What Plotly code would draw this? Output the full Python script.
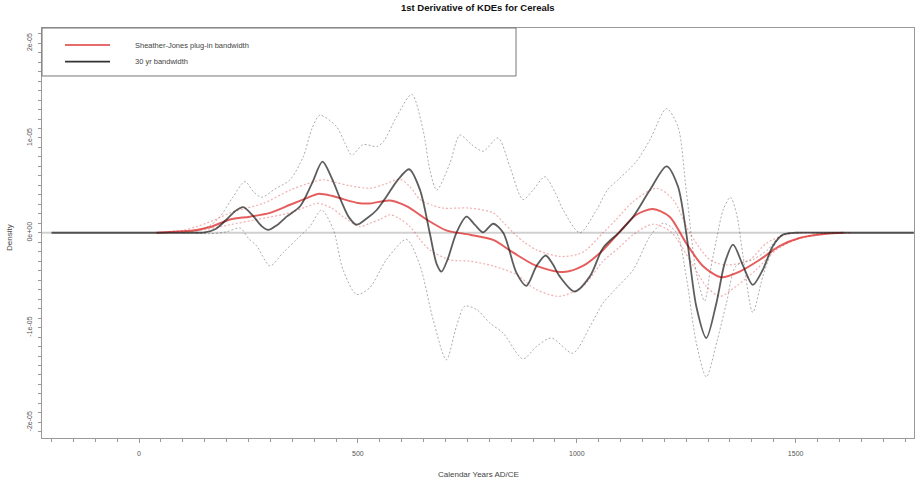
import numpy as np
import plotly.graph_objects as go

# values, in units of 1e-6
SCALE = 1e-6

# Sheather-Jones plug-in bandwidth (red)
sj_years = [40, 100, 132, 162, 208, 253, 299, 345, 380, 409, 440, 466, 500, 527, 573, 611, 657,
            702, 756, 809, 855, 908, 969, 1014, 1056, 1098, 1136, 1174, 1212, 1250, 1288, 1330,
            1372, 1418, 1463, 1509, 1570, 1610]
sj_vals = [0, 0.15, 0.3, 0.6, 1.4, 1.7, 2.1, 2.95, 3.6, 4.1, 3.9, 3.55, 3.15, 3.1, 3.4, 2.8, 1.4,
           0.25, -0.2, -0.75, -2.1, -3.5, -4.15, -3.5, -2.0, 0.1, 1.9, 2.5, 1.7, -1.1, -3.5, -4.7,
           -4.1, -2.85, -1.4, -0.55, -0.1, 0]

sj_hi_years = [40, 100, 132, 170, 208, 245, 284, 345, 380, 421, 450, 482, 527, 560, 596, 620, 642,
               670, 695, 756, 809, 830, 855, 880, 908, 961, 1000, 1022, 1060, 1090, 1129, 1182,
               1220, 1258, 1304, 1342, 1395, 1433, 1479, 1530, 1630]
sj_hi_vals = [0, 0.25, 0.65, 1.3, 2.1, 2.6, 3.1, 4.5, 5.1, 5.6, 5.3, 4.95, 4.7, 5.1, 5.65, 4.8, 3.5,
              2.9, 2.6, 2.6, 2.1, 1.2, 0, -1.0, -1.8, -2.5, -2.3, -1.8, 0.0, 1.4, 3.3, 4.7,
              3.5, 0, -2.85, -3.4, -2.85, -1.1, -0.2, 0, 0]

sj_lo_years = [40, 132, 208, 269, 345, 380, 409, 440, 466, 505, 527, 550, 573, 595, 619, 640, 664,
               710, 756, 809, 862, 908, 961, 1014, 1060, 1098, 1129, 1174, 1215, 1258, 1296, 1327,
               1364, 1410, 1456, 1509, 1570, 1630]
sj_lo_vals = [0, 0.2, 0.85, 1.4, 2.1, 2.7, 3.1, 2.6, 1.7, 0.65, 1.0, 1.4, 1.9, 1.5, 0.65, -0.6, -1.8,
              -2.85, -3.0, -3.5, -4.4, -6.0, -6.7, -5.65, -3.0, -1.5, -0.2, 0.9, 0.1, -2.85, -5.65, -6.7,
              -5.65, -3.9, -1.8, -0.55, -0.1, 0]

# 30 yr bandwidth (black)
bw30_years = [-200, 100, 150, 175, 200, 220, 238, 260, 280, 295, 315, 337, 368, 395, 419, 440, 459,
              480, 497, 520, 543, 565, 590, 617, 642, 664, 680, 691, 705, 725, 748, 768, 786, 809,
              832, 862, 885, 908, 929, 945, 961, 995, 1030, 1060, 1098, 1129, 1167, 1205, 1231,
              1250, 1273, 1296, 1319, 1338, 1357, 1380, 1402, 1425, 1448, 1471, 1500, 1550, 1770]
bw30_vals = [0, 0, 0.05, 0.4, 1.4, 2.3, 2.7, 1.8, 0.7, 0.3, 0.8, 1.7, 2.8, 5.2, 7.5, 5.8, 3.65,
             1.6, 0.85, 1.5, 2.4, 3.8, 5.5, 6.7, 4.5, 0, -3.3, -4.1, -2.8, 0, 1.7, 0.8, 0.05, 0.95,
             0, -4.2, -5.6, -3.5, -2.4, -3.3, -4.6, -6.2, -4.6, -1.6, 0.1, 1.7, 4.5, 7.0, 4.9,
             0, -7.75, -11.1, -7.4, -3.2, -1.26, -3.5, -5.5, -3.9, -1.4, -0.2, 0, 0, 0]

bw30_hi_years = [100, 132, 160, 185, 215, 242, 262, 280, 310, 345, 375, 395, 413, 451, 470, 486,
                 512, 543, 558, 588, 623, 649, 665, 680, 710, 733, 760, 786, 820, 847, 877, 900,
                 927, 950, 969, 1007, 1045, 1070, 1098, 1136, 1167, 1205, 1231, 1250, 1273, 1292,
                 1305, 1320, 1335, 1351, 1365, 1380, 1402, 1425, 1441, 1463, 1490]
bw30_hi_vals = [0, 0.2, 0.7, 1.7, 3.8, 5.4, 4.3, 3.75, 4.6, 5.6, 8.0, 11.0, 12.4, 11.2, 9.5, 8.2,
                9.3, 9.1, 9.6, 12.2, 14.6, 10.8, 6.5, 4.5, 7.3, 10.3, 9.3, 8.6, 10.0, 7.0, 3.5, 4.5,
                5.9, 4.3, 2.4, 0, 2.4, 4.5, 5.75, 7.5, 9.8, 13.1, 11.2, 4.5, -4.2, -7.2,
                -4.0, -0.5, 2.5, 3.75, 2.0, -2.5, -8.4, -4.6, -2.5, -0.4, 0]

bw30_lo_years = [130, 162, 200, 231, 250, 269, 299, 329, 360, 390, 417, 444, 466, 497, 527, 565,
                 611, 642, 672, 702, 725, 744, 771, 801, 832, 877, 908, 942, 991, 1030, 1060, 1083,
                 1129, 1167, 1197, 1228, 1250, 1273, 1296, 1320, 1342, 1364, 1402, 1436, 1463, 1490]
bw30_lo_vals = [0, -0.1, 0.1, 0.5, -0.6, -1.4, -3.5, -2.1, -0.7, 0.65, 2.4, 0.3, -3.9, -6.5, -5.8, -2.85,
                -0.7, -3.5, -9.2, -13.4, -9.9, -7.75, -8.1, -9.5, -10.6, -13.3, -12.0, -11.1, -12.7, -9.9, -7.4, -6.2,
                -3.9, -0.4, 1.0, 0, -4.6, -11.6, -15.2, -11.5, -7.4, -3.5, -2.85, -1.8, -0.4, 0]

x_ticks = [0, 500, 1000, 1500]
y_ticks = [-2e-5, -1e-5, 0, 1e-5, 2e-5]
y_tick_text = ["-2e-05", "-1e-05", "0e+00", "1e-05", "2e-05"]

FONT = "Liberation Sans, Arial, sans-serif"
RED = "rgba(220,30,30,0.72)"
PINK = "rgba(225,70,70,0.42)"
DARK = "rgba(30,30,30,0.72)"
GREY = "rgba(60,60,60,0.42)"


def line(xs, ys, color, width, dash="solid"):
    return go.Scatter(x=xs, y=np.array(ys) * SCALE, mode="lines",
                      line=dict(color=color, width=width, dash=dash, shape="spline", smoothing=0.8),
                      hoverinfo="skip", showlegend=False)


fig = go.Figure()
fig.add_trace(line(bw30_hi_years, bw30_hi_vals, GREY, 1, "2px,2px"))
fig.add_trace(line(bw30_lo_years, bw30_lo_vals, GREY, 1, "2px,2px"))
fig.add_trace(line(sj_hi_years, sj_hi_vals, PINK, 1.2, "2px,2px"))
fig.add_trace(line(sj_lo_years, sj_lo_vals, PINK, 1.2, "2px,2px"))
fig.add_trace(line(sj_years, sj_vals, RED, 2))
fig.add_trace(line(bw30_years, bw30_vals, DARK, 1.8))

# horizontal line at zero
fig.add_shape(type="line", xref="paper", yref="y", x0=0, x1=1, y0=0, y1=0,
              line=dict(color="rgba(150,150,150,0.45)", width=2), layer="below")

# legend box drawn by hand, like R's legend()
fig.add_shape(type="rect", xref="paper", yref="paper", x0=0, x1=0.5436, y0=0.883, y1=1,
              line=dict(color="#777", width=1))
fig.add_shape(type="line", xref="paper", yref="paper", x0=0.0264, x1=0.078, y0=0.9585, y1=0.9585,
              line=dict(color="#e03a3a", width=1.6))
fig.add_shape(type="line", xref="paper", yref="paper", x0=0.0264, x1=0.078, y0=0.918, y1=0.918,
              line=dict(color="#333", width=1.6))
legend_text = ["Sheather-Jones plug-in bandwidth", "30 yr bandwidth"]
for txt, yy in zip(legend_text, [0.9585, 0.918]):
    fig.add_annotation(text=txt, xref="paper", yref="paper", x=0.1044, y=yy, xanchor="left",
                       yanchor="middle", showarrow=False, font=dict(family=FONT, size=7.5, color="#444"))

fig.add_annotation(text="<b>1st Derivative of KDEs for Cereals</b>", xref="paper", yref="paper",
                   x=0.5, y=1.049, xanchor="center", yanchor="middle", showarrow=False,
                   font=dict(family=FONT, size=9.5, color="#111"))
fig.add_annotation(text="Calendar Years AD/CE", xref="paper", yref="paper", x=0.5, y=-0.088,
                   xanchor="center", yanchor="middle", showarrow=False,
                   font=dict(family=FONT, size=8, color="#444"))
fig.add_annotation(text="Density", xref="paper", yref="paper", x=-0.038, y=0.49, textangle=-90,
                   xanchor="center", yanchor="middle", showarrow=False,
                   font=dict(family=FONT, size=8, color="#444"))

fig.update_xaxes(range=[-221.7, 1770.4], tickvals=x_ticks, ticks="outside", ticklen=4,
                 tickcolor="#999", tickwidth=1, showline=True, linecolor="#999", linewidth=1,
                 mirror=True, showgrid=False, zeroline=False, ticklabelstandoff=5, automargin=False,
                 tickfont=dict(family=FONT, size=7, color="#555"),
                 minor=dict(dtick=50, tick0=0, ticks="outside", ticklen=3, tickcolor="#999",
                            showgrid=False))
fig.update_yaxes(range=[-2.165e-5, 2.16e-5], tickvals=y_ticks, ticktext=y_tick_text, tickangle=-90,
                 ticks="outside", ticklen=3, tickcolor="#999", tickwidth=1, showline=True,
                 linecolor="#999", linewidth=1, mirror=True, showgrid=False, zeroline=False,
                 automargin=False, ticklabelstandoff=3, tickfont=dict(family=FONT, size=7, color="#555"),
                 minor=dict(dtick=1e-6, tick0=0, ticks="outside", ticklen=3, tickcolor="#999",
                            showgrid=False))

fig.update_layout(width=915, height=481, margin=dict(l=42, r=1, t=28, b=43),
                  paper_bgcolor="white", plot_bgcolor="white", showlegend=False,
                  font=dict(family=FONT))

# drop the page's default body margin so the figure sits at the window corner
fig.write_html("out.html", config={"displayModeBar": False},
               post_script="document.body.style.margin='0px';")
